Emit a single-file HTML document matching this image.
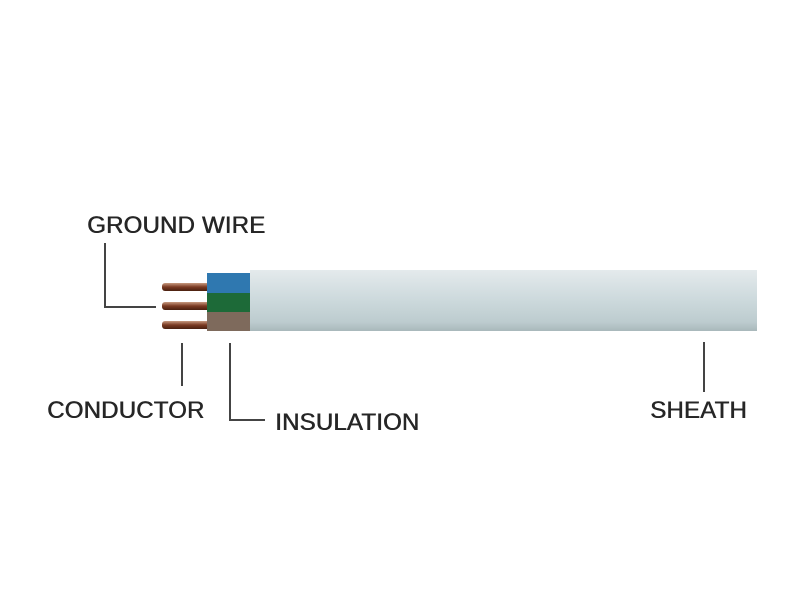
<!DOCTYPE html>
<html><head><style>
body{margin:0;width:800px;height:600px;background:#fff;position:relative;overflow:hidden;font-family:"Liberation Sans",sans-serif}
.t{position:absolute;font-size:24px;color:#262626;line-height:1;text-shadow:0.6px 0 0 #262626;letter-spacing:0.2px;white-space:nowrap}
.l{position:absolute;background:#444}
</style></head><body>
<svg width="800" height="600" style="position:absolute;left:0;top:0">
<defs>
<linearGradient id="sh" x1="0" y1="0" x2="0" y2="1">
<stop offset="0" stop-color="#e4eaec"/><stop offset="0.5" stop-color="#ccd9dc"/><stop offset="0.85" stop-color="#bdcccf"/><stop offset="1" stop-color="#a9b8bb"/></linearGradient>
<linearGradient id="cu" x1="0" y1="0" x2="0" y2="1">
<stop offset="0" stop-color="#c89a80"/><stop offset="0.5" stop-color="#7a3a22"/><stop offset="1" stop-color="#4a2010"/></linearGradient>
</defs>
<rect x="162" y="283" width="50" height="8" rx="3" fill="url(#cu)"/>
<rect x="162" y="302" width="50" height="8" rx="3" fill="url(#cu)"/>
<rect x="162" y="321" width="50" height="8" rx="3" fill="url(#cu)"/>
<rect x="207" y="273" width="45" height="21" fill="#2f78b0"/>
<rect x="207" y="293" width="45" height="20" fill="#1d6a38"/>
<rect x="207" y="312" width="45" height="19" fill="#7e6a5c"/>
<rect x="250" y="270" width="507" height="61" fill="url(#sh)"/>
</svg>
<div class="l" style="left:104px;top:243px;width:2px;height:65px"></div>
<div class="l" style="left:104px;top:306px;width:52px;height:2px"></div>
<div class="l" style="left:181px;top:343px;width:2px;height:43px"></div>
<div class="l" style="left:229px;top:343px;width:2px;height:78px"></div>
<div class="l" style="left:229px;top:419px;width:36px;height:2px"></div>
<div class="l" style="left:703px;top:342px;width:2px;height:50px"></div>
<div class="t" style="left:87px;top:214px">GROUND WIRE</div>
<div class="t" style="left:47px;top:399px">CONDUCTOR</div>
<div class="t" style="left:275px;top:411px">INSULATION</div>
<div class="t" style="left:650px;top:399px">SHEATH</div>
</body></html>
